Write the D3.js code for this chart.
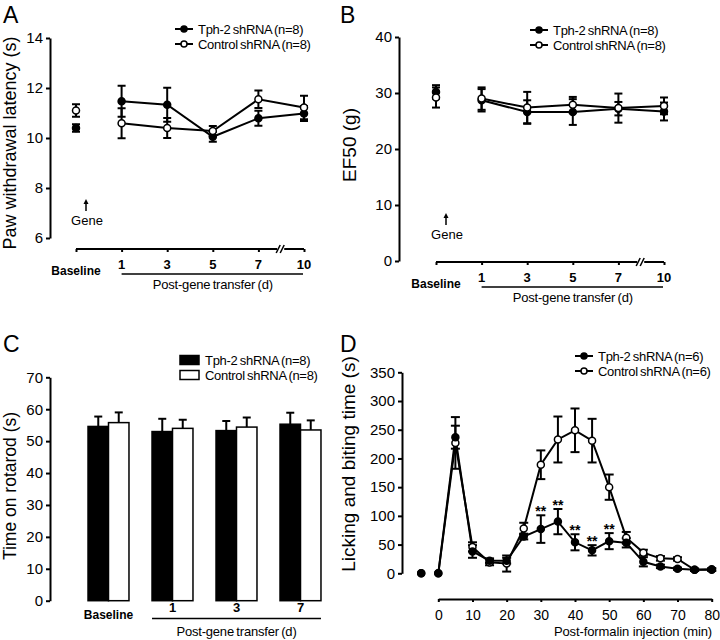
<!DOCTYPE html>
<html><head><meta charset="utf-8">
<script src="https://cdn.jsdelivr.net/npm/d3@7"></script>
<style>
body{margin:0;background:#fff;}
svg{display:block;font-family:"Liberation Sans",Arial,sans-serif;}
</style></head>
<body>
<svg id="chart" width="720" height="640"></svg>
<script>
// ---------- DATA ----------
// Panel A: paw withdrawal latency (s)
const daysAB = ["Baseline", "1", "3", "5", "7", "10"];
const aTph = [10.4, 11.47, 11.33, 10.05, 10.79, 10.98];
const aTphErr = [0.15, 0.62, 0.68, 0.2, 0.3, 0.3];
const aCtl = [11.1, 10.59, 10.4, 10.28, 11.55, 11.22];
const aCtlErr = [0.25, 0.6, 0.4, 0.2, 0.35, 0.47];
const aTicks = [6, 8, 10, 12, 14];
// Panel B: EF50 (g)
const bTph = [30.2, 28.7, 26.6, 26.6, 27.2, 26.7];
const bTphErr = [1.2, 2.0, 2.1, 2.3, 1.2, 1.6];
const bCtl = [29.2, 29.0, 27.4, 27.9, 27.3, 27.7];
const bCtlErr = [1.8, 2.0, 2.8, 1.4, 2.6, 1.5];
const bTicks = [0, 10, 20, 30, 40];
// Panel C: time on rotarod (s)
const daysC = ["Baseline", "1", "3", "7"];
const cTph = [54.6, 53.0, 53.3, 55.3];
const cTphErr = [3.1, 4.0, 3.0, 3.6];
const cCtl = [55.8, 54.0, 54.4, 53.5];
const cCtlErr = [3.2, 2.7, 3.0, 3.0];
const cTicks = [0, 10, 20, 30, 40, 50, 60, 70];
// Panel D: licking and biting time (s)
const dTime = [-5, 0, 5, 10, 15, 20, 25, 30, 35, 40, 45, 50, 55, 60, 65, 70, 75, 80];
const dTph = [0, 0, 237, 38, 22, 22, 64, 77, 90, 54, 40, 56, 53, 20, 12, 8, 6, 6];
const dTphErr = [0, 0, 20, 11, 4, 5, 5, 24, 22, 14, 9, 14, 8, 8, 3, 2, 2, 2];
const dCtl = [0, 0, 227, 46, 19, 17, 78, 189, 233, 249, 231, 150, 62, 36, 26, 25, 6, 7];
const dCtlErr = [0, 0, 45, 8, 5, 14, 10, 25, 40, 38, 38, 22, 10, 5, 4, 3, 2, 2];
const dStars = [30, 35, 40, 45, 50];
const dTicksY = [0, 50, 100, 150, 200, 250, 300, 350];
const dTicksX = [0, 10, 20, 30, 40, 50, 60, 70, 80];
const legendAB = ["Tph-2 shRNA (n=8)", "Control shRNA (n=8)"];
const legendD = ["Tph-2 shRNA (n=6)", "Control shRNA (n=6)"];

// ---------- DRAW ----------
const svg = d3.select("#chart");
const FONT = '"Liberation Sans",Arial,sans-serif';

function yAxis(g, scale, ticks, x) {
  const ax = g.append("g").attr("transform", `translate(${x},0)`)
    .call(d3.axisLeft(scale).tickValues(ticks).tickSize(4).tickSizeOuter(0).tickPadding(3));
  ax.select(".domain").attr("stroke-width", 2);
  ax.selectAll(".tick line").attr("stroke-width", 2);
  ax.selectAll("text").attr("font-size", 15).attr("font-family", FONT).attr("fill", "#000");
}
function panelLetter(t, x, y) {
  svg.append("text").attr("x", x).attr("y", y).attr("font-size", 23).text(t);
}
function yTitle(t, x, y, fs) {
  svg.append("text").attr("transform", `translate(${x},${y}) rotate(-90)`)
    .attr("text-anchor", "middle").attr("font-size", fs).text(t);
}
function legendLine(x, y, labels) {
  labels.forEach((lab, i) => {
    const yy = y + i * 15;
    svg.append("line").attr("x1", x).attr("x2", x + 18).attr("y1", yy).attr("y2", yy)
      .attr("stroke", "#000").attr("stroke-width", 2);
    svg.append("circle").attr("cx", x + 9).attr("cy", yy).attr("r", 3)
      .attr("fill", i === 0 ? "#000" : "#fff").attr("stroke", "#000").attr("stroke-width", 1.5);
    svg.append("text").attr("x", x + 23).attr("y", yy + 4.5).attr("font-size", 13)
      .attr("letter-spacing", -0.3).attr("word-spacing", -1).text(lab);
  });
}
function errBars(g, xs, ys, es, y, cap) {
  xs.forEach((x, i) => {
    if (!es[i]) return;
    const y1 = y(ys[i] + es[i]), y2 = y(ys[i] - es[i]);
    g.append("line").attr("x1", x).attr("x2", x).attr("y1", y1).attr("y2", y2)
      .attr("stroke", "#000").attr("stroke-width", 2);
    [y1, y2].forEach(yy => g.append("line").attr("x1", x - cap).attr("x2", x + cap)
      .attr("y1", yy).attr("y2", yy).attr("stroke", "#000").attr("stroke-width", 2));
  });
}

// ---- Line panels A & B ----
function linePanel(opt) {
  const g = svg.append("g");
  const x = d3.scalePoint().domain(daysAB).range(opt.xr);
  const y = d3.scaleLinear().domain(opt.yd).range(opt.yr);
  yAxis(g, y, opt.ticks, opt.axisX);
  // x axis with break
  const xa = g.append("g").attr("transform", `translate(0,${opt.xAxisY})`)
    .call(d3.axisBottom(x).tickSize(3).tickSizeOuter(0).tickFormat(""));
  xa.select(".domain").remove();
  xa.selectAll(".tick line").attr("stroke-width", 2);
  const bx = (x("7") + x("10")) / 2;
  const ay = opt.xAxisY;
  g.append("line").attr("x1", x("Baseline")).attr("x2", bx - 4).attr("y1", ay).attr("y2", ay).attr("stroke", "#000").attr("stroke-width", 2);
  g.append("line").attr("x1", bx + 3).attr("x2", x("10")).attr("y1", ay).attr("y2", ay).attr("stroke", "#000").attr("stroke-width", 2);
  [-3, 1].forEach(d => g.append("line").attr("x1", bx + d - 2).attr("x2", bx + d + 2)
    .attr("y1", ay + 4).attr("y2", ay - 4).attr("stroke", "#000").attr("stroke-width", 1.5));
  // tick labels
  daysAB.forEach(d => {
    if (d === "Baseline") {
      g.append("text").attr("x", x(d)).attr("y", ay + 26).attr("text-anchor", "middle")
        .attr("font-size", 12).attr("font-weight", "bold").text(d);
    } else {
      g.append("text").attr("x", x(d)).attr("y", ay + 20).attr("text-anchor", "middle")
        .attr("font-size", 13).attr("font-weight", "bold").text(d);
    }
  });
  g.append("line").attr("x1", x("1")).attr("x2", x("10") - 1).attr("y1", ay + 25).attr("y2", ay + 25)
    .attr("stroke", "#000").attr("stroke-width", 1.5);
  g.append("text").attr("x", (x("1") + x("10")) / 2 + 0).attr("y", ay + 40).attr("text-anchor", "middle")
    .attr("font-size", 13).attr("letter-spacing", -0.2).attr("word-spacing", -1).text("Post-gene transfer (d)");
  // Gene arrow
  const gx = x("Baseline") + 10;
  g.append("line").attr("x1", gx).attr("x2", gx).attr("y1", opt.geneY - 14).attr("y2", opt.geneY - 4)
    .attr("stroke", "#000").attr("stroke-width", 1.5);
  g.append("path").attr("d", `M${gx - 2.5},${opt.geneY - 11}L${gx},${opt.geneY - 16}L${gx + 2.5},${opt.geneY - 11}Z`).attr("fill", "#000");
  g.append("text").attr("x", gx + 1).attr("y", opt.geneY + 10).attr("text-anchor", "middle")
    .attr("font-size", 13).text("Gene");
  // data
  const xs = daysAB.map(d => x(d));
  errBars(g, xs, opt.tph, opt.tphErr, y, 4);
  errBars(g, xs, opt.ctl, opt.ctlErr, y, 4);
  const line = d3.line().x((d, i) => xs[i + 1]).y(d => y(d));
  [opt.tph, opt.ctl].forEach(s => g.append("path").attr("d", line(s.slice(1)))
    .attr("fill", "none").attr("stroke", "#000").attr("stroke-width", 2));
  [[opt.tph, "#000"], [opt.ctl, "#fff"]].forEach(([s, f]) => {
    g.selectAll(null).data(s).enter().append("circle")
      .attr("cx", (d, i) => xs[i]).attr("cy", d => y(d)).attr("r", 3.5)
      .attr("fill", f).attr("stroke", "#000").attr("stroke-width", 1.5);
  });
}

linePanel({xr: [76, 304], yd: [6, 14], yr: [238, 38], ticks: aTicks, axisX: 50, xAxisY: 249,
  geneY: 215, tph: aTph, tphErr: aTphErr, ctl: aCtl, ctlErr: aCtlErr});
linePanel({xr: [436, 664], yd: [0, 40], yr: [261, 37], ticks: bTicks, axisX: 399, xAxisY: 262,
  geneY: 229, tph: bTph, tphErr: bTphErr, ctl: bCtl, ctlErr: bCtlErr});
panelLetter("A", 3, 23);
panelLetter("B", 340, 23);
yTitle("Paw withdrawal latency (s)", 16, 143, 18);
yTitle("EF50 (g)", 356, 145, 19);
legendLine(175, 29, legendAB);
legendLine(530, 30, legendAB);

// ---- Panel C: bars ----
{
  const g = svg.append("g");
  const x = d3.scaleBand().domain(daysC).range([76.5, 332.5]).paddingInner(0.36).paddingOuter(0.18);
  const xi = d3.scaleBand().domain(["tph", "ctl"]).range([0, x.bandwidth()]);
  const y = d3.scaleLinear().domain([0, 70]).range([600.7, 377.3]);
  yAxis(g, y, cTicks, 50);
  const series = [["tph", cTph, cTphErr, "#000"], ["ctl", cCtl, cCtlErr, "#fff"]];
  series.forEach(([k, vals, errs, fill]) => {
    daysC.forEach((d, i) => {
      const bx = x(d) + xi(k), cx = bx + xi.bandwidth() / 2;
      g.append("line").attr("x1", cx).attr("x2", cx).attr("y1", y(vals[i])).attr("y2", y(vals[i] + errs[i]))
        .attr("stroke", "#000").attr("stroke-width", 2);
      g.append("line").attr("x1", cx - 4).attr("x2", cx + 4).attr("y1", y(vals[i] + errs[i])).attr("y2", y(vals[i] + errs[i]))
        .attr("stroke", "#000").attr("stroke-width", 2);
      g.append("rect").attr("x", bx).attr("y", y(vals[i])).attr("width", xi.bandwidth())
        .attr("height", y(0) - y(vals[i])).attr("fill", fill).attr("stroke", "#000").attr("stroke-width", 1.5);
    });
  });
  daysC.forEach(d => {
    const cx = x(d) + x.bandwidth() / 2;
    if (d === "Baseline") g.append("text").attr("x", cx).attr("y", 619).attr("text-anchor", "middle")
      .attr("font-size", 12).attr("font-weight", "bold").text(d);
    else g.append("text").attr("x", cx).attr("y", 612).attr("text-anchor", "middle")
      .attr("font-size", 13).attr("font-weight", "bold").text(d);
  });
  const x1 = x("1"), x7 = x("7") + x.bandwidth();
  g.append("line").attr("x1", x1).attr("x2", x7).attr("y1", 618.5).attr("y2", 618.5).attr("stroke", "#000").attr("stroke-width", 1.5);
  g.append("text").attr("x", (x1 + x7) / 2).attr("y", 636).attr("text-anchor", "middle")
    .attr("font-size", 13).attr("letter-spacing", -0.2).attr("word-spacing", -1).text("Post-gene transfer (d)");
  // legend
  legendAB.forEach((lab, i) => {
    const yy = 360 + i * 15;
    g.append("rect").attr("x", 180).attr("y", yy - 4.5).attr("width", 19).attr("height", 9)
      .attr("fill", i === 0 ? "#000" : "#fff").attr("stroke", "#000").attr("stroke-width", 1.5);
    g.append("text").attr("x", 205).attr("y", yy + 4.5).attr("font-size", 13)
      .attr("letter-spacing", -0.3).attr("word-spacing", -1).text(lab);
  });
}
panelLetter("C", 3, 352);
yTitle("Time on rotarod (s)", 16, 486, 17.5);

// ---- Panel D ----
{
  const g = svg.append("g");
  const x = d3.scaleLinear().domain([0, 80]).range([438.3, 711.7]);
  const y = d3.scaleLinear().domain([0, 350]).range([573.3, 372.3]);
  yAxis(g, y, dTicksY, 402);
  const xa = g.append("g").attr("transform", "translate(0,599)")
    .call(d3.axisBottom(x).tickValues(dTicksX).tickSize(3).tickSizeOuter(0).tickPadding(8));
  xa.select(".domain").attr("stroke-width", 2);
  xa.selectAll(".tick line").attr("stroke-width", 2);
  xa.selectAll("text").attr("font-size", 14).attr("font-family", FONT).attr("fill", "#000");
  g.append("text").attr("x", 633).attr("y", 636).attr("text-anchor", "middle").attr("font-size", 13)
    .attr("letter-spacing", -0.1).text("Post-formalin injection (min)");
  const xs = dTime.map(t => x(t));
  errBars(g, xs, dCtl, dCtlErr, y, 4.5);
  errBars(g, xs, dTph, dTphErr, y, 4.5);
  const line = d3.line().defined((d, i) => dTime[i] >= 0).x((d, i) => xs[i]).y(d => y(d));
  [dCtl, dTph].forEach(s => g.append("path").attr("d", line(s)).attr("fill", "none")
    .attr("stroke", "#000").attr("stroke-width", 2));
  [[dCtl, "#fff"], [dTph, "#000"]].forEach(([s, f]) => {
    g.selectAll(null).data(s).enter().append("circle")
      .attr("cx", (d, i) => xs[i]).attr("cy", d => y(d)).attr("r", 3.5)
      .attr("fill", (d, i) => dTime[i] <= 0 ? "#000" : f).attr("stroke", "#000").attr("stroke-width", 1.5);
  });
  dStars.forEach(t => {
    const i = dTime.indexOf(t);
    g.append("text").attr("x", x(t)).attr("y", y(dTph[i] + dTphErr[i]) + 1).attr("text-anchor", "middle")
      .attr("font-size", 14).attr("font-weight", "bold").text("**");
  });
}
panelLetter("D", 340, 352);
yTitle("Licking and biting time (s)", 355, 464, 19);
legendLine(575, 356, legendD);
</script>
</body></html>
